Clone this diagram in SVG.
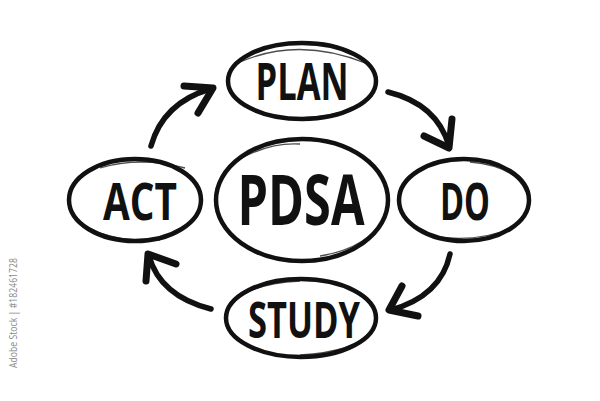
<svg xmlns="http://www.w3.org/2000/svg" width="600" height="401" viewBox="0 0 600 401">
<style>
.ring{fill:none;stroke:#111;stroke-width:4.5}
.ring2{fill:none;stroke:#111;stroke-width:1.3;opacity:0.75}
.lbl{font-family:"Open Sans","DejaVu Sans",sans-serif;font-weight:700;fill:#111;text-anchor:middle}
.shaft{fill:none;stroke:#111;stroke-width:5.5;stroke-linecap:round}
.head{fill:none;stroke:#111;stroke-width:7;stroke-linecap:round;stroke-linejoin:round}
.wm{font-family:"Open Sans","DejaVu Sans",sans-serif;font-size:10px;fill:#8a8a8a}
</style>
<rect width="600" height="401" fill="#fff"/>
<g id="connectors">
  <path class="shaft" d="M151,146 Q163,103 210,89"/>
  <path class="head" d="M184,86 L213,88 L198,113"/>
  <path class="shaft" d="M388,92 Q437,104 449,146"/>
  <path class="head" d="M424,136 L449,148 L452,119"/>
  <path class="shaft" d="M450,254 Q441,296 391,310"/>
  <path class="head" d="M402,286 L389,310 L418,316"/>
  <path class="shaft" d="M211,309 Q160,296 149,256"/>
  <path class="head" d="M146,281 L148,254 L176,264"/>
</g>
<g id="plan">
  <ellipse class="ring" cx="302" cy="81" rx="74" ry="38"/>
  <path class="ring2" d="M240,62 Q300,36 368,64"/>
  <path class="ring2" d="M300,118 Q352,116 372,96"/>
  <text class="lbl" x="302" y="100" font-size="52" textLength="93" lengthAdjust="spacingAndGlyphs">PLAN</text>
</g>
<g id="do">
  <ellipse class="ring" cx="464" cy="200" rx="65" ry="41"/>
  <path class="ring2" d="M470,162 Q516,166 526,192"/>
  <path class="ring2" d="M430,236 Q480,244 515,226"/>
  <text class="lbl" x="465" y="220" font-size="52" textLength="50" lengthAdjust="spacingAndGlyphs">DO</text>
</g>
<g id="study">
  <ellipse class="ring" cx="301" cy="318" rx="75" ry="39"/>
  <path class="ring2" d="M232,305 Q246,284 300,281"/>
  <path class="ring2" d="M300,355 Q355,352 374,330"/>
  <text class="lbl" x="304" y="338" font-size="50" textLength="112" lengthAdjust="spacingAndGlyphs">STUDY</text>
</g>
<g id="act">
  <ellipse class="ring" cx="135" cy="200" rx="66" ry="41"/>
  <path class="ring2" d="M100,168 Q140,156 185,168"/>
  <path class="ring2" d="M78,222 Q110,243 160,240"/>
  <text class="lbl" x="140" y="220" font-size="52" textLength="74" lengthAdjust="spacingAndGlyphs">ACT</text>
</g>
<g id="pdsa">
  <ellipse class="ring" cx="302" cy="200" rx="86" ry="61"/>
  <path class="ring2" d="M238,160 Q270,142 300,144"/>
  <path class="ring2" d="M320,256 Q370,248 385,215"/>
  <text class="lbl" x="301" y="225" font-size="69" textLength="127" lengthAdjust="spacingAndGlyphs">PDSA</text>
</g>
<text class="wm" transform="translate(17,368) rotate(-90)" textLength="110" lengthAdjust="spacingAndGlyphs">Adobe Stock | #182461728</text>
</svg>
